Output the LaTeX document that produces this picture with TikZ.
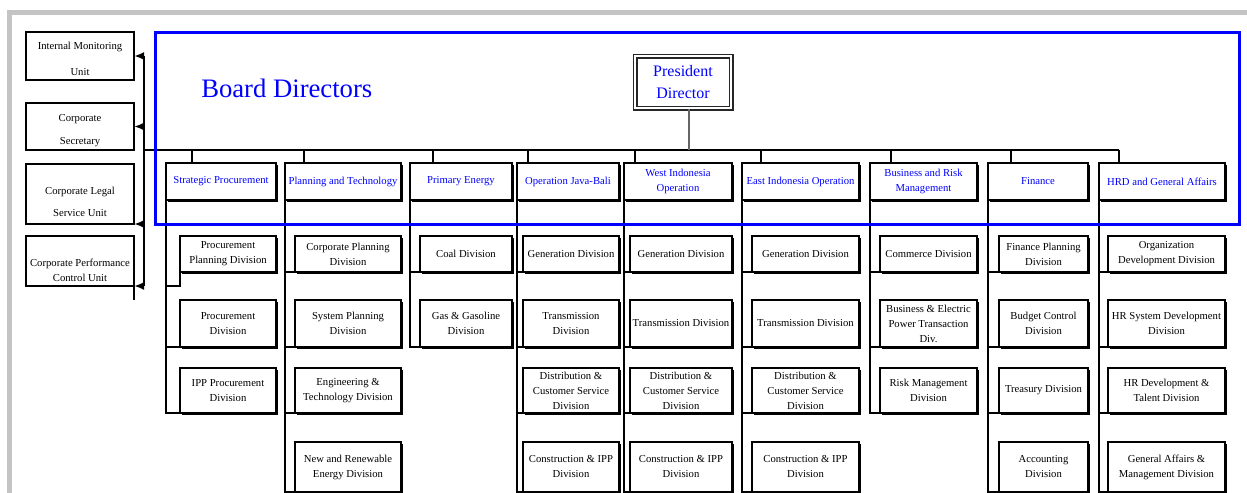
\documentclass[tikz,border=0pt]{standalone}
\usepackage{fontspec}
\setmainfont{Liberation Serif}
\usepackage{tikz}
\usetikzlibrary{arrows.meta,shadows}
\definecolor{framegray}{RGB}{196,196,196}
\newdimen\pxunit \pxunit=0.75pt

\begin{document}
\begin{tikzpicture}[x=0.75pt,y=-0.75pt,
		box/.style={draw, fill=white, line width=2.4\pxunit, inner sep=1pt, outer sep=0pt, align=center, anchor=north west,
			font=\fontsize{8}{11.25}\selectfont,
			drop shadow={shadow xshift=2\pxunit, shadow yshift=-2\pxunit, fill=black, opacity=1}},
		hdr/.style={box, text=blue, minimum height=37\pxunit, minimum width=#1\pxunit},
		sub/.style={box, minimum width=#1\pxunit},
		r1/.style={minimum height=36\pxunit},
		r2/.style={minimum height=47\pxunit},
		r3/.style={minimum height=45\pxunit},
		r4/.style={minimum height=50\pxunit},
		ubox/.style={draw, line width=2.8\pxunit, outer sep=0pt, minimum width=108\pxunit, anchor=north west},
		utext/.style={align=center, inner sep=0pt, font=\fontsize{8}{11}\selectfont},
		link/.style={line width=2.4\pxunit},
		tip/.style={-{Latex[length=7.5pt,width=6pt]}}
	]
	\useasboundingbox (0,0) rectangle (1247,493);
	\draw[framegray, line width=5\pxunit] (9.5,493) -- (9.5,12.5) -- (1247,12.5);
	
	% units on the left
	\node[ubox, minimum height=48\pxunit] (l1) at (26,32) {};
	\node[ubox, minimum height=47\pxunit] (l2) at (26,103) {};
	\node[ubox, minimum height=60\pxunit] (l3) at (26,164) {};
	\node[ubox, minimum height=50\pxunit] (l4) at (26,236) {};
	\node[utext] (l1t) at (80,58.4) {Internal Monitoring\\[8.5pt]Unit};
	\node[utext] (l2t) at (80,131) {Corporate\\[6.25pt]Secretary};
	\node[utext] (l3t) at (80,202.3) {Corporate Legal\\[5.5pt]Service Unit};
	\node[utext] (l4t) at (80,270) {Corporate Performance\\Control Unit};
	
	\node[anchor=base west, inner sep=0pt, text=blue, font=\fontsize{20}{24}\selectfont] (bd) at (201,97) {Board Directors};
	\node[draw=black!85, double=white, double distance=2\pxunit, line width=1.5\pxunit, minimum width=96\pxunit, minimum height=52\pxunit,
		text=blue, align=center, inner sep=0pt, font=\fontsize{12}{16.5}\selectfont] (pd) at (683,82) {President\\Director};
	
	% directorates
	\node[hdr=110] (h1) at (166,163) {Strategic Procurement};
	\node[hdr=116] (h2) at (285,163) {Planning and Technology};
	\node[hdr=102] (h3) at (410,163) {Primary Energy};
	\node[hdr=102] (h4) at (517,163) {Operation Java-Bali};
	\node[hdr=108] (h5) at (624,163) {West Indonesia\\Operation};
	\node[hdr=117] (h6) at (742,163) {East Indonesia Operation};
	\node[hdr=107] (h7) at (870,163) {Business and Risk\\Management};
	\node[hdr=100] (h8) at (988,163) {Finance};
	\node[hdr=126] (h9) at (1099,163) {HRD and General Affairs};
	
	% divisions
	\node[sub=96, r1] (b11) at (180,236) {Procurement\\Planning Division};
	\node[sub=96, r2] (b12) at (180,300) {Procurement\\Division};
	\node[sub=96, r3] (b13) at (180,368) {IPP Procurement\\Division};
	
	\node[sub=106, r1] (b21) at (295,236) {Corporate Planning\\Division};
	\node[sub=106, r2] (b22) at (295,300) {System Planning\\Division};
	\node[sub=106, r3] (b23) at (295,368) {Engineering \&\\Technology Division};
	\node[sub=106, r4] (b24) at (295,442) {New and Renewable\\Energy Division};
	
	\node[sub=92, r1] (b31) at (420,236) {Coal Division};
	\node[sub=92, r2] (b32) at (420,300) {Gas \& Gasoline\\Division};
	
	\node[sub=96, r1] (b41) at (523,236) {Generation Division};
	\node[sub=96, r2] (b42) at (523,300) {Transmission\\Division};
	\node[sub=96, r3] (b43) at (523,368) {Distribution \&\\Customer Service\\Division};
	\node[sub=96, r4] (b44) at (523,442) {Construction \& IPP\\Division};
	
	\node[sub=102, r1] (b51) at (630,236) {Generation Division};
	\node[sub=102, r2] (b52) at (630,300) {Transmission Division};
	\node[sub=102, r3] (b53) at (630,368) {Distribution \&\\Customer Service\\Division};
	\node[sub=102, r4] (b54) at (630,442) {Construction \& IPP\\Division};
	
	\node[sub=107, r1] (b61) at (752,236) {Generation Division};
	\node[sub=107, r2] (b62) at (752,300) {Transmission Division};
	\node[sub=107, r3] (b63) at (752,368) {Distribution \&\\Customer Service\\Division};
	\node[sub=107, r4] (b64) at (752,442) {Construction \& IPP\\Division};
	
	\node[sub=97, r1] (b71) at (880,236) {Commerce Division};
	\node[sub=97, r2] (b72) at (880,300) {Business \& Electric\\Power Transaction\\Div.};
	\node[sub=97, r3] (b73) at (880,368) {Risk Management\\Division};
	
	\node[sub=89, r1] (b81) at (999,236) {Finance Planning\\Division};
	\node[sub=89, r2] (b82) at (999,300) {Budget Control\\Division};
	\node[sub=89, r3] (b83) at (999,368) {Treasury Division};
	\node[sub=89, r4] (b84) at (999,442) {Accounting\\Division};
	
	\node[sub=117, r1] (b91) at (1108,236) {Organization\\Development Division};
	\node[sub=117, r2] (b92) at (1108,300) {HR System Development\\Division};
	\node[sub=117, r3] (b93) at (1108,368) {HR Development \&\\Talent Division};
	\node[sub=117, r4] (b94) at (1108,442) {General Affairs \&\\Management Division};
	
	% bus and staff units
	\coordinate (bus) at (144,150);
	\draw[link] (bus) -- (1119,150) coordinate (busend);
	\draw[link] (bus |- l1.east) -- (bus |- l4.south east);
	\draw[link, tip] (bus |- l1.east) -- (l1.east);
	\draw[link, tip] (bus |- l2.east) -- (l2.east);
	\draw[link, tip] (bus |- l3.south east) -- (l3.south east);
	\draw[link, tip] (bus |- l4.south east) -- (l4.south east);
	\draw[link] (l4.south east) -- ++(0,14);
	\draw[black!60, line width=1.3\pxunit] (pd.south -| 689,0) -- (bus -| 689,0);
	
	\draw[link] (bus -| 192,0) -- (h1.north -| 192,0)
		(bus -| 304,0) -- (h2.north -| 304,0)
		(bus -| 433,0) -- (h3.north -| 433,0)
		(bus -| 528,0) -- (h4.north -| 528,0)
		(bus -| 635,0) -- (h5.north -| 635,0)
		(bus -| 761,0) -- (h6.north -| 761,0)
		(bus -| 891,0) -- (h7.north -| 891,0)
		(bus -| 1011,0) -- (h8.north -| 1011,0)
		(busend) -- (h9.north -| busend);
	
	% directorate to divisions
	\draw[link] (h1.south west) -- (h1.south west |- b13.south west) -- (b13.south west)
		(h1.south west |- b12.south west) -- (b12.south west)
		(h1.south west |- 0,286) -| (b11.south west);
	\draw[link] (h2.south west) -- (h2.south west |- b24.south west) -- (b24.south west)
		(h2.south west |- b21.south west) -- (b21.south west)
		(h2.south west |- b22.south west) -- (b22.south west)
		(h2.south west |- b23.south west) -- (b23.south west);
	\draw[link] (h3.south west) -- (h3.south west |- b32.south west) -- (b32.south west)
		(h3.south west |- b31.south west) -- (b31.south west);
	\draw[link] (h4.south west) -- (h4.south west |- b44.south west) -- (b44.south west)
		(h4.south west |- b41.south west) -- (b41.south west)
		(h4.south west |- b42.south west) -- (b42.south west)
		(h4.south west |- b43.south west) -- (b43.south west);
	\draw[link] (h5.south west) -- (h5.south west |- b54.south west) -- (b54.south west)
		(h5.south west |- b51.south west) -- (b51.south west)
		(h5.south west |- b52.south west) -- (b52.south west)
		(h5.south west |- b53.south west) -- (b53.south west);
	\draw[link] (h6.south west) -- (h6.south west |- b64.south west) -- (b64.south west)
		(h6.south west |- b61.south west) -- (b61.south west)
		(h6.south west |- b62.south west) -- (b62.south west)
		(h6.south west |- b63.south west) -- (b63.south west);
	\draw[link] (h7.south west) -- (h7.south west |- b73.south west) -- (b73.south west)
		(h7.south west |- b71.south west) -- (b71.south west)
		(h7.south west |- b72.south west) -- (b72.south west);
	\draw[link] (h8.south west) -- (h8.south west |- b84.south west) -- (b84.south west)
		(h8.south west |- b81.south west) -- (b81.south west)
		(h8.south west |- b82.south west) -- (b82.south west)
		(h8.south west |- b83.south west) -- (b83.south west);
	\draw[link] (h9.south west) -- (h9.south west |- b94.south west) -- (b94.south west)
		(h9.south west |- b91.south west) -- (b91.south west)
		(h9.south west |- b92.south west) -- (b92.south west)
		(h9.south west |- b93.south west) -- (b93.south west);
	
	\draw[blue, line width=3\pxunit] (155.5,32.5) rectangle (1239.7,224);
\end{tikzpicture}
\end{document}
